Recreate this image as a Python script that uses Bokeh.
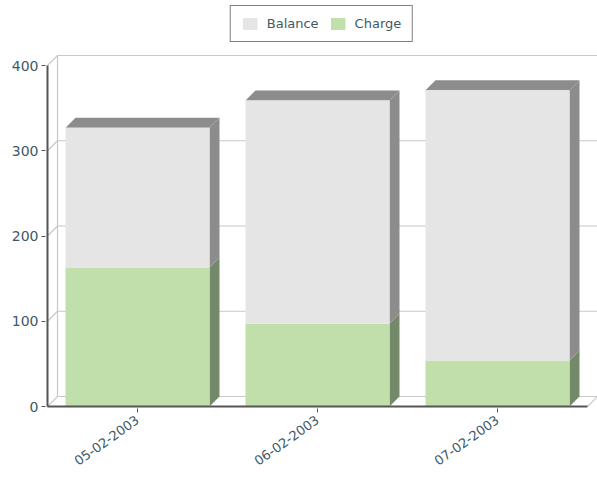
from bokeh.plotting import figure
from bokeh.models import Range1d, FixedTicker, Legend, LegendItem
from bokeh.embed import file_html
from bokeh.resources import INLINE

# ---- data ----
dates = ["05-02-2003", "06-02-2003", "07-02-2003"]
charge = [163, 97, 54]
balance = [164, 262, 317]
y_ticks = [0, 100, 200, 300, 400]

# ---- style ----
FONT = "DejaVu Sans"
TXT = "#3d5a68"
AXIS = "#555555"
GRID = "#c8c8c8"
BAL_FRONT, BAL_SIDE = "#e5e5e5", "#8c8c8c"
CHG_FRONT, CHG_SIDE = "#c1dfaa", "#74896a"

W, H = 597, 487
LEFT, BOTTOM, TOP = 45, 79, 5
PX_X, PX_Y = 180.0, 0.8525
DEPTH = 10.0
fw, fh = W - LEFT, H - BOTTOM - TOP
x0 = -2.0 / PX_X
y0 = -2.0 / PX_Y
dx, dy = DEPTH / PX_X, DEPTH / PX_Y
n = len(dates)
bw = 0.4

p = figure(width=W, height=H, output_backend="svg", toolbar_location=None,
           x_range=Range1d(x0, x0 + fw / PX_X), y_range=Range1d(y0, y0 + fh / PX_Y),
           min_border_left=LEFT, min_border_bottom=BOTTOM, min_border_top=TOP, min_border_right=0)
p.outline_line_color = None
p.background_fill_color = "white"
p.grid.visible = False

top_y = max(y_ticks)
# back wall grid lines and side-wall diagonals
for v in y_ticks:
    p.segment(x0=[dx], y0=[v + dy], x1=[n + dx], y1=[v + dy], line_color=GRID, line_width=1.2)
    p.segment(x0=[0], y0=[v], x1=[dx], y1=[v + dy], line_color=GRID, line_width=1.2)
p.segment(x0=[dx], y0=[dy], x1=[dx], y1=[top_y + dy], line_color=GRID, line_width=1.2)
p.segment(x0=[n], y0=[0], x1=[n + dx], y1=[dy], line_color=GRID, line_width=1.2)

# bars
centers = [i + 0.5 for i in range(n)]
bottoms_c = [0] * n
tops_c = charge
bottoms_b = charge
tops_b = [c + b for c, b in zip(charge, balance)]

def side_faces(bots, tops):
    xs, ys = [], []
    for c, b, t in zip(centers, bots, tops):
        r = c + bw
        xs.append([r, r + dx, r + dx, r])
        ys.append([b, b + dy, t + dy, t])
    return xs, ys

def top_faces(tops):
    xs, ys = [], []
    for c, t in zip(centers, tops):
        l, r = c - bw, c + bw
        xs.append([l, l + dx, r + dx, r])
        ys.append([t, t + dy, t + dy, t])
    return xs, ys

xs, ys = side_faces(bottoms_c, tops_c)
p.patches(xs, ys, fill_color=CHG_SIDE, line_color=None)
xs, ys = side_faces(bottoms_b, tops_b)
p.patches(xs, ys, fill_color=BAL_SIDE, line_color=None)
xs, ys = top_faces(tops_b)
p.patches(xs, ys, fill_color=BAL_SIDE, line_color=None)

r_chg = p.vbar(x=centers, width=2 * bw, bottom=bottoms_c, top=tops_c,
               fill_color=CHG_FRONT, line_color=None)
r_bal = p.vbar(x=centers, width=2 * bw, bottom=bottoms_b, top=tops_b,
               fill_color=BAL_FRONT, line_color=None)

# axis lines
p.segment(x0=[0], y0=[0], x1=[0], y1=[top_y], line_color=AXIS, line_width=2)
p.segment(x0=[0], y0=[0], x1=[n], y1=[0], line_color=AXIS, line_width=2)

# axes
p.yaxis.ticker = FixedTicker(ticks=y_ticks)
p.yaxis.axis_line_color = None
p.yaxis.major_tick_line_color = AXIS
p.yaxis.major_tick_out = 4
p.yaxis.major_tick_in = 0
p.yaxis.minor_tick_line_color = None
p.yaxis.major_label_standoff = 3
p.yaxis.major_label_text_font = FONT
p.yaxis.major_label_text_font_size = "14px"
p.yaxis.major_label_text_color = TXT

p.xaxis.ticker = FixedTicker(ticks=centers)
p.xaxis.major_label_overrides = {c: d for c, d in zip(centers, dates)}
p.xaxis.axis_line_color = None
p.xaxis.major_tick_line_color = AXIS
p.xaxis.major_tick_out = 4
p.xaxis.major_tick_in = 0
p.xaxis.minor_tick_line_color = None
p.xaxis.major_label_orientation = 0.62
p.xaxis.major_label_standoff = 6
p.xaxis.major_label_text_font = FONT
p.xaxis.major_label_text_font_size = "13px"
p.xaxis.major_label_text_color = TXT

legend = Legend(items=[LegendItem(label="Balance", renderers=[r_bal]),
                       LegendItem(label="Charge", renderers=[r_chg])],
                location="top_center", orientation="horizontal",
                margin=0, padding=10, spacing=10, label_standoff=8,
                glyph_width=18, glyph_height=15, label_height=15,
                label_text_font=FONT, label_text_font_size="13px", label_text_color=TXT,
                border_line_color="black", border_line_width=1.5,
                background_fill_color="white", background_fill_alpha=1)
p.add_layout(legend)

open("out.html", "w").write(file_html(p, INLINE))
